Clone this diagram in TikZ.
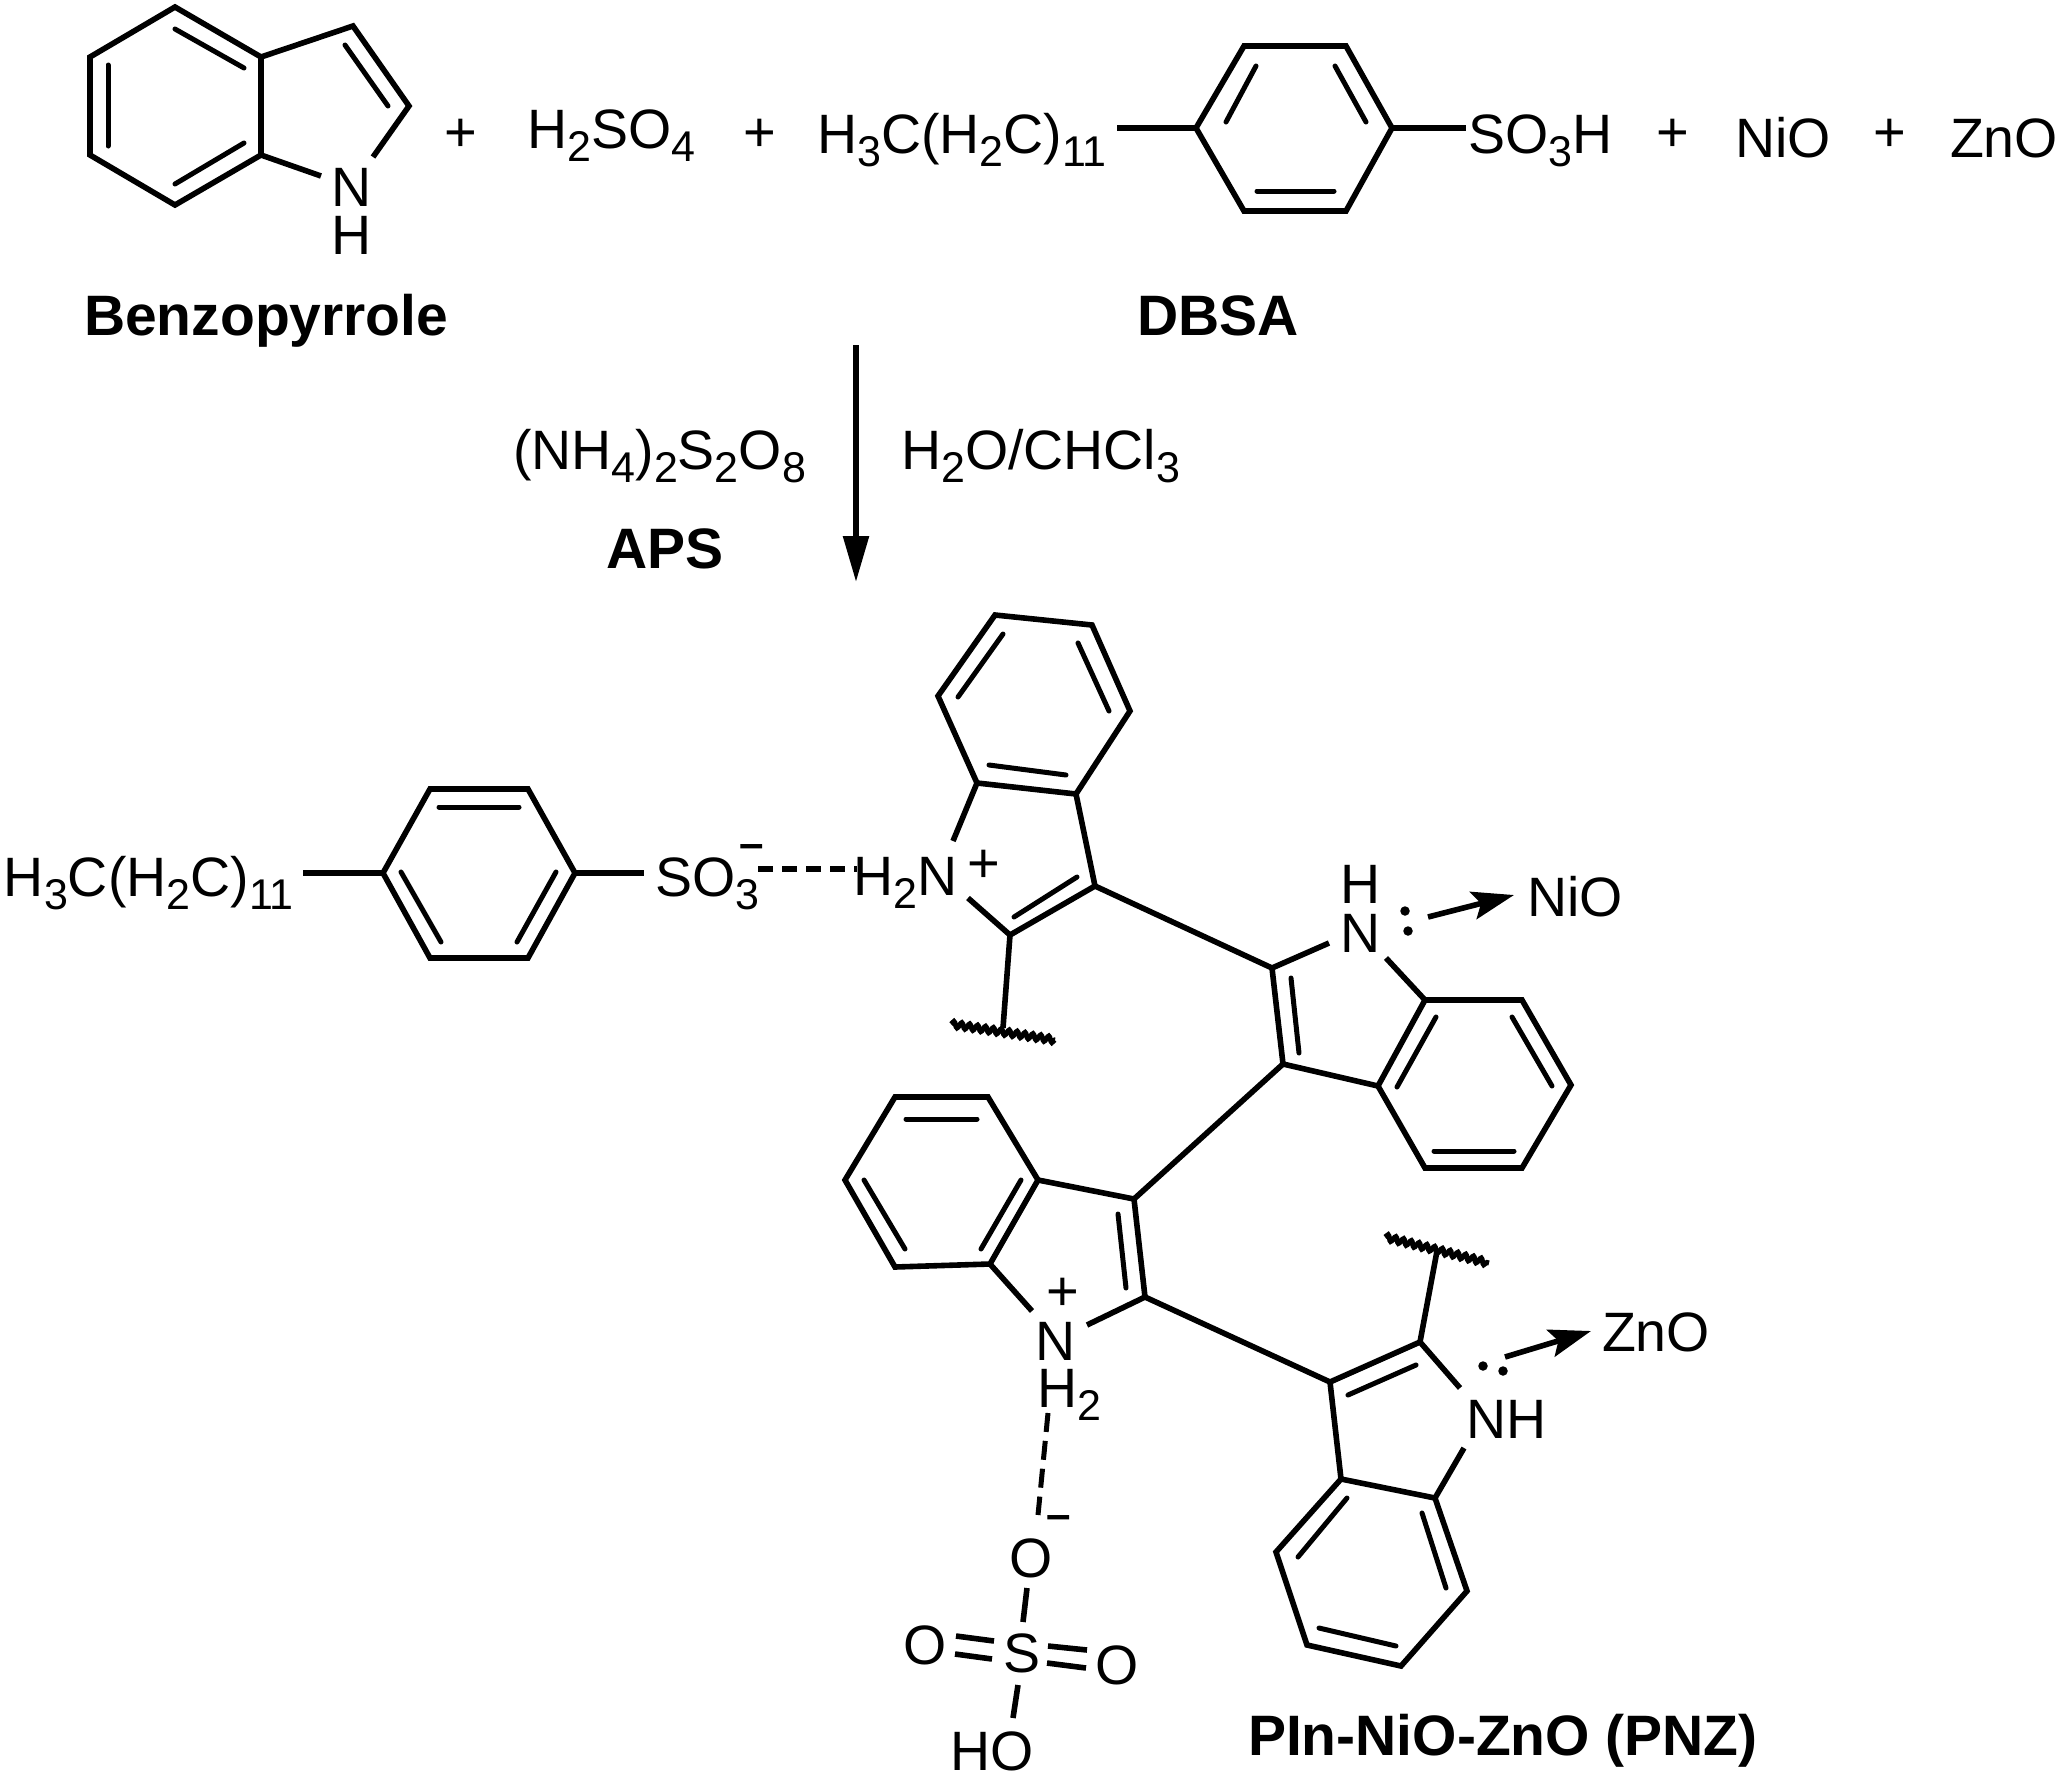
\documentclass[tikz,border=0pt]{standalone}
\usepackage{fontspec}
\setmainfont{Liberation Sans}
\usetikzlibrary{arrows.meta,decorations.pathmorphing}
\newcommand{\ssb}[1]{\raisebox{-0.24em}{\fontsize{43}{43}\selectfont #1}}
\tikzset{
  bond/.style={line width=5.6pt,line join=miter,line cap=butt,black},
  inner/.style={line width=5pt,line cap=round,black},
  txt/.style={font=\fontsize{55.5}{60}\selectfont,inner sep=0pt,outer sep=0pt,anchor=base west},
  atom/.style={txt,anchor=base},
  boldtxt/.style={font=\bfseries\fontsize{57}{63}\selectfont,inner sep=0pt,outer sep=0pt,anchor=base west},
  sign/.style={font=\fontsize{56}{60}\selectfont,inner sep=0pt,outer sep=0pt,anchor=center},
  minussign/.style={font=\bfseries\fontsize{44}{48}\selectfont,inner sep=0pt,outer sep=0pt,anchor=center},
  hdash/.style={line width=6pt,dash pattern=on 15pt off 9pt},
  vdash/.style={line width=5pt,dash pattern=on 19pt off 9pt},
  mainarrow/.style={line width=5.6pt,-{Stealth[length=46pt,width=25pt,inset=0pt]}},
  donor/.style={line width=5.6pt,-{Stealth[length=42pt,width=28pt,inset=8pt]}},
  wavy/.style={line width=5pt,decorate,decoration={snake,segment length=8pt,amplitude=3pt}},
  lonepair/.style={circle,fill=black,inner sep=0pt,minimum size=9.5pt},
}
\begin{document}
\begin{tikzpicture}[x=1pt,y=-1pt]
\useasboundingbox (0,0) rectangle (2065,1781);

% ---------- top row: benzopyrrole
\coordinate (a1) at (175,7);
\coordinate (a2) at (90,57);
\coordinate (a3) at (90,155);
\coordinate (a4) at (175,205);
\coordinate (a5) at (261,155);
\coordinate (a6) at (261,57);
\coordinate (a7) at (353,26);
\coordinate (a8) at (409,106);
\coordinate (a9) at (321,176);
\coordinate (a10) at (373,157);
\draw[bond] (a1)--(a2)--(a3)--(a4)--(a5)--(a6)--cycle;
\draw[bond] (a6)--(a7)--(a8)--(a10);
\draw[bond] (a5)--(a9);
\draw[inner] (108,65)--(108,146);
\draw[inner] (175,29)--(244,68);
\draw[inner] (175,184)--(244,143);
\draw[inner] (345,45)--(388,106);
\node[atom] (aN) at (351.5,206) {N};
\node[atom] (aH) at (351.5,254) {H};
\node[boldtxt] (lbBenzo) at (84,335) {Benzopyrrole};

\node[sign] (p1) at (461,135) {+};
\node[txt] (h2so4) at (527,148) {H\ssb{2}SO\ssb{4}};
\node[sign] (p2) at (760,135) {+};
\node[txt] (chainA) at (817,153) {H\ssb{3}C(H\ssb{2}C)\ssb{11}};

% DBSA ring
\coordinate (b1) at (1244,46);
\coordinate (b2) at (1346,46);
\coordinate (b3) at (1392,128);
\coordinate (b4) at (1346,211);
\coordinate (b5) at (1244,211);
\coordinate (b6) at (1196,128);
\coordinate (b7) at (1117,128);
\coordinate (b8) at (1466,128);
\draw[bond] (b1)--(b2)--(b3)--(b4)--(b5)--(b6)--cycle;
\draw[bond] (b7)--(b6);
\draw[bond] (b3)--(b8);
\draw[inner] (1256,66)--(1226,122);
\draw[inner] (1335,66)--(1366,122);
\draw[inner] (1257,191)--(1334,191);
\node[txt] (so3h) at (1468,153) {SO\ssb{3}H};
\node[sign] (p3) at (1673,135) {+};
\node[txt] (nioA) at (1735,157) {NiO};
\node[sign] (p4) at (1890,135) {+};
\node[txt] (znoA) at (1950,157) {ZnO};
\node[boldtxt,anchor=base] (lbDBSA) at (1218,335) {DBSA};

% reaction arrow
\coordinate (r1) at (856,345);
\coordinate (r2) at (856,582);
\draw[mainarrow] (r1)--(r2);
\node[txt] (aps) at (513,469) {(NH\ssb{4})\ssb{2}S\ssb{2}O\ssb{8}};
\node[txt] (solv) at (901,469) {H\ssb{2}O/CHCl\ssb{3}};
\node[boldtxt,anchor=base] (lbAPS) at (665,568) {APS};

% ---------- lower left: DBSA anion
\coordinate (c1) at (430,789);
\coordinate (c2) at (528,789);
\coordinate (c3) at (575,873);
\coordinate (c4) at (528,958);
\coordinate (c5) at (430,958);
\coordinate (c6) at (383,873);
\coordinate (c7) at (303,873);
\coordinate (c8) at (644,873);
\draw[bond] (c1)--(c2)--(c3)--(c4)--(c5)--(c6)--cycle;
\draw[bond] (c7)--(c6);
\draw[bond] (c3)--(c8);
\draw[inner] (439,807)--(519,807);
\draw[inner] (401,872)--(441,942);
\draw[inner] (556,872)--(517,942);
\node[txt] (chainB) at (4,896) {H\ssb{3}C(H\ssb{2}C)\ssb{11}};
\node[txt] (so3) at (655,896) {SO\ssb{3}};
\node[minussign] (m1) at (752,851) {–};
\node[txt] (h2n) at (853,895) {H\ssb{2}N};
\node[sign] (p5) at (984,866) {+};
\coordinate (hb1) at (758,869);
\coordinate (hb2) at (857,869);
\draw[hdash] (hb1)--(hb2);

% ---------- indole 1 (upper)
\coordinate (d1) at (995,615);
\coordinate (d2) at (1092,625);
\coordinate (d3) at (1130,711);
\coordinate (d4) at (1076,794);
\coordinate (d5) at (977,783);
\coordinate (d6) at (938,696);
\coordinate (d7) at (1095,886);
\coordinate (d8) at (1010,935);
\coordinate (d9) at (953,841);
\coordinate (d10) at (968,898);
\coordinate (d11) at (1003,1028);
\draw[bond] (d1)--(d2)--(d3)--(d4)--(d5)--(d6)--cycle;
\draw[bond] (d5)--(d9);
\draw[bond] (d4)--(d7)--(d8)--(d10);
\draw[bond] (d8)--(d11);
\draw[inner] (1003,634)--(958,697);
\draw[inner] (1078,643)--(1109,711);
\draw[inner] (989,765)--(1066,775);
\draw[inner] (1077,877)--(1014,917);
\coordinate (w1a) at (951,1024);
\coordinate (w1b) at (1055,1040);
\draw[wavy] (w1a)--(w1b);

% ---------- indole 2 (right)
\coordinate (e1) at (1272,968);
\coordinate (e2) at (1329,943);
\coordinate (e3) at (1283,1064);
\coordinate (e4) at (1378,1086);
\coordinate (e5) at (1425,1000);
\coordinate (e6) at (1522,1000);
\coordinate (e7) at (1571,1085);
\coordinate (e8) at (1522,1168);
\coordinate (e9) at (1425,1168);
\coordinate (e10) at (1386,958);
\draw[bond] (d7)--(e1)--(e2);
\draw[bond] (e1)--(e3)--(e4);
\draw[bond] (e10)--(e5);
\draw[bond] (e5)--(e6)--(e7)--(e8)--(e9)--(e4)--cycle;
\draw[inner] (1291,978)--(1299,1053);
\draw[inner] (1436,1017)--(1397,1087);
\draw[inner] (1512,1017)--(1552,1086);
\draw[inner] (1434,1151)--(1514,1151);
\node[atom] (eN) at (1361,952) {N};
\node[atom] (eH) at (1361,903) {H};
\node[lonepair] (lp1) at (1405,911) {};
\node[lonepair] (lp2) at (1408,931) {};
\coordinate (ar1) at (1428,917);
\node[txt] (nioB) at (1527,916) {NiO};
\coordinate (ar1b) at (1514,895);
\draw[donor] (ar1)--(ar1b);

% ---------- indole 3 (centre)
\coordinate (f1) at (895,1097);
\coordinate (f2) at (988,1097);
\coordinate (f3) at (1038,1180);
\coordinate (f4) at (990,1264);
\coordinate (f5) at (895,1267);
\coordinate (f6) at (845,1180);
\coordinate (f7) at (1134,1199);
\coordinate (f8) at (1145,1297);
\coordinate (f9) at (1032,1311);
\coordinate (f10) at (1087,1325);
\draw[bond] (f1)--(f2)--(f3)--(f4)--(f5)--(f6)--cycle;
\draw[bond] (f4)--(f9);
\draw[bond] (f3)--(f7)--(f8)--(f10);
\draw[bond] (e3)--(f7);
\draw[inner] (906,1119)--(977,1119);
\draw[inner] (864,1180)--(905,1249);
\draw[inner] (981,1249)--(1021,1180);
\draw[inner] (1118,1214)--(1126,1288);
\node[atom] (fN) at (1056,1360) {N};
\node[txt] (fH) at (1037,1407) {H\ssb{2}};
\node[sign] (p6) at (1063,1294) {+};
\coordinate (hb3) at (1048,1413);
\coordinate (hb4) at (1038,1515);
\draw[vdash] (hb3)--(hb4);
\node[minussign] (m2) at (1059,1522) {–};

% sulfate
\node[atom] (oA) at (1031,1577) {O};
\node[atom] (sA) at (1022,1672) {S};
\node[atom] (oB) at (925,1664) {O};
\node[atom] (oC) at (1117,1684) {O};
\node[txt] (ho) at (950,1770) {HO};
\coordinate (s1) at (1027,1588);
\coordinate (s2) at (1023,1622);
\coordinate (s3) at (1018,1685);
\coordinate (s4) at (1013,1718);
\draw[bond] (s1)--(s2);
\draw[bond] (s3)--(s4);
\draw[bond] (956,1636)--(994,1641);
\draw[bond] (955,1654)--(992,1659);
\draw[bond] (1048,1646)--(1087,1650);
\draw[bond] (1047,1663)--(1086,1668);

% ---------- indole 4 (lower right)
\coordinate (g1) at (1330,1382);
\coordinate (g2) at (1420,1342);
\coordinate (g3) at (1437,1251);
\coordinate (g4) at (1460,1388);
\coordinate (g5) at (1464,1448);
\coordinate (g6) at (1435,1498);
\coordinate (g7) at (1341,1479);
\coordinate (g8) at (1276,1552);
\coordinate (g9) at (1307,1645);
\coordinate (g10) at (1401,1666);
\coordinate (g11) at (1467,1591);
\draw[bond] (f8)--(g1)--(g2)--(g4);
\draw[bond] (g2)--(g3);
\draw[bond] (g1)--(g7);
\draw[bond] (g5)--(g6);
\draw[bond] (g7)--(g8)--(g9)--(g10)--(g11)--(g6)--cycle;
\draw[inner] (1348,1395)--(1416,1365);
\draw[inner] (1347,1498)--(1298,1557);
\draw[inner] (1422,1513)--(1446,1588);
\draw[inner] (1319,1628)--(1396,1646);
\coordinate (w2a) at (1385,1237);
\coordinate (w2b) at (1489,1263);
\draw[wavy] (w2a)--(w2b);
\node[txt] (gNH) at (1466,1438) {NH};
\node[lonepair] (lp3) at (1483,1366) {};
\node[lonepair] (lp4) at (1503,1371) {};
\coordinate (ar2) at (1505,1357);
\coordinate (ar2b) at (1591,1331);
\draw[donor] (ar2)--(ar2b);
\node[txt] (znoB) at (1602,1351) {ZnO};

\node[boldtxt] (lbPNZ) at (1248,1755) {PIn-NiO-ZnO (PNZ)};
\end{tikzpicture}
\end{document}
